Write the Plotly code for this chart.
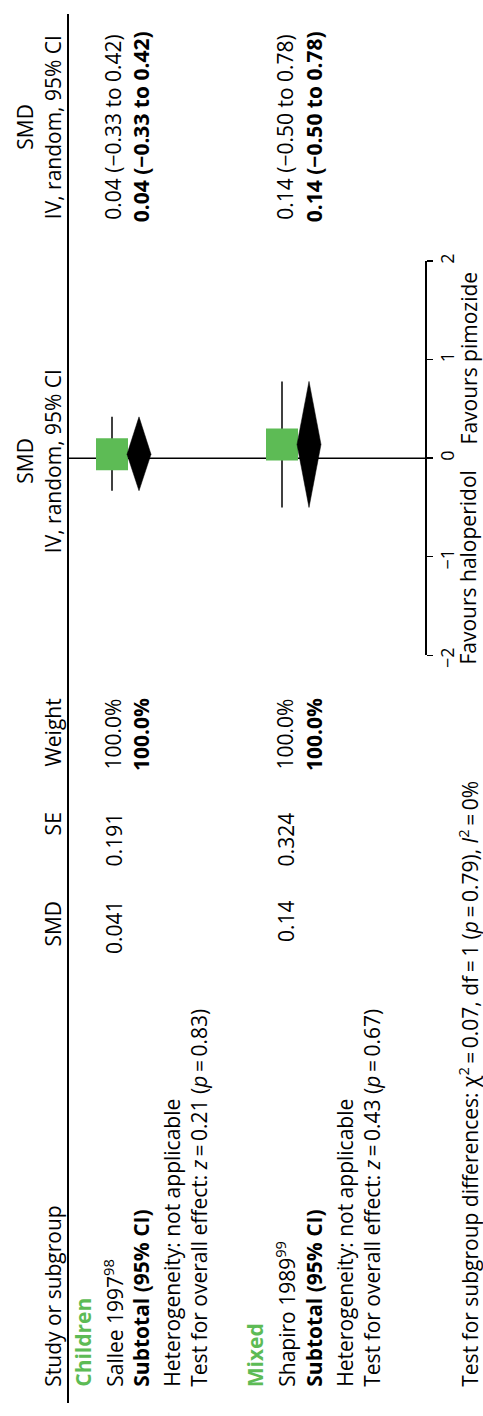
import plotly.graph_objects as go

# ---------------- data ----------------
subgroups = ["Children", "Mixed"]
studies = ["Sallee 1997<sup>98</sup>", "Shapiro 1989<sup>99</sup>"]
study_smd = [0.041, 0.14]
study_smd_text = ["0.041", "0.14"]
study_se_text = ["0.191", "0.324"]
study_weight = ["100.0%", "100.0%"]
study_ci_lo = [-0.33, -0.50]
study_ci_hi = [0.42, 0.78]
study_ci_text = ["0.04 (−0.33 to 0.42)", "0.14 (−0.50 to 0.78)"]
sub_est = [0.04, 0.14]
sub_lo = [-0.33, -0.50]
sub_hi = [0.42, 0.78]
sub_weight = ["100.0%", "100.0%"]
sub_ci_text = ["0.04 (−0.33 to 0.42)", "0.14 (−0.50 to 0.78)"]
heterogeneity = ["Heterogeneity: not applicable", "Heterogeneity: not applicable"]
overall_z = ["0.21", "0.43"]
overall_p = ["0.83", "0.67"]
subgroup_chi2 = "0.07"
subgroup_df = "1"
subgroup_p = "0.79"
subgroup_i2 = "0%"
tick_vals = [-2, -1, 0, 1, 2]
tick_text = ["−2\u2007", "−1\u2007", "0", "1", "2"]
favours_left = "Favours haloperidol"
favours_right = "Favours pimozide"

# ---------------- layout / style ----------------
W, H = 483, 1416
FONT = "Open Sans"
FS = 21
GREEN = "#5DBB55"
TS = "\u2009"  # thin space

ROW_HEAD_TOP = 25.5
ROW_HEAD = 53
ROW_GROUP = [83, 255]
ROW_STUDY = [113.5, 285.5]
ROW_SUB = [141, 314]
ROW_HET = [172.5, 345.5]
ROW_TEST = [199.5, 372.5]
ROW_SUBGROUP_TEST = 468.5
ROW_FAVOURS = 468.5
MARK_STUDY = [112, 282]
MARK_DIAMOND = [139, 309]
DIAMOND_HALF = 12

COL_STUDY = 1400
COL_SMD = 906
COL_SE = 817
COL_WEIGHT = 701
COL_FOREST = 460
COL_CI = 121

SEP_X = 68
AXIS_X = 425
ZERO_PX = 457
PX_PER_UNIT = 100
AX_MIN, AX_MAX = -2, 2

dom_lo = (H - (ZERO_PX - PX_PER_UNIT * AX_MIN)) / H
dom_hi = (H - (ZERO_PX - PX_PER_UNIT * AX_MAX)) / H

fig = go.Figure()

# zero line
fig.add_trace(go.Scatter(x=[SEP_X, AXIS_X], y=[0, 0], xaxis="x", yaxis="y2",
                         mode="lines", line=dict(color="black", width=1.5),
                         hoverinfo="skip", showlegend=False, cliponaxis=False))

# CI lines
ci_x, ci_y = [], []
for i in range(len(studies)):
    ci_x += [MARK_STUDY[i], MARK_STUDY[i], None]
    ci_y += [study_ci_lo[i], study_ci_hi[i], None]
fig.add_trace(go.Scatter(x=ci_x, y=ci_y, xaxis="x", yaxis="y2", mode="lines",
                         line=dict(color="black", width=1.5),
                         hoverinfo="skip", showlegend=False))

# study squares
fig.add_trace(go.Scatter(x=MARK_STUDY, y=study_smd, xaxis="x", yaxis="y2",
                         mode="markers",
                         marker=dict(symbol="square", size=32, color=GREEN,
                                     line=dict(width=0)),
                         hoverinfo="skip", showlegend=False))

# subtotal diamonds
for i in range(len(subgroups)):
    xc = MARK_DIAMOND[i]
    fig.add_trace(go.Scatter(
        x=[xc, xc + DIAMOND_HALF, xc, xc - DIAMOND_HALF, xc],
        y=[sub_hi[i], sub_est[i], sub_lo[i], sub_est[i], sub_hi[i]],
        xaxis="x", yaxis="y2", mode="lines", fill="toself",
        fillcolor="black", line=dict(color="black", width=0.5),
        hoverinfo="skip", showlegend=False))

annotations = []


def ann(text, x, y, yanchor, size=FS, color="black"):
    annotations.append(dict(
        text=text, x=x, y=y, xref="x", yref="y", xanchor="center",
        yanchor=yanchor, textangle=-90, showarrow=False,
        borderpad=0, borderwidth=0,
        font=dict(family=FONT, size=size, color=color)))


# headers
ann("Study or subgroup", ROW_HEAD, COL_STUDY, "bottom")
ann("SMD", ROW_HEAD, COL_SMD, "top")
ann("SE", ROW_HEAD, COL_SE, "top")
ann("Weight", ROW_HEAD, COL_WEIGHT, "top")
ann("SMD", ROW_HEAD_TOP, COL_FOREST, "middle")
ann("IV, random, 95% CI", ROW_HEAD, COL_FOREST, "middle")
ann("SMD", ROW_HEAD_TOP, COL_CI, "middle")
ann("IV, random, 95% CI", ROW_HEAD, COL_CI, "middle")

for i in range(len(subgroups)):
    ann("<b>%s</b>" % subgroups[i], ROW_GROUP[i], COL_STUDY, "bottom", color=GREEN)
    ann(studies[i], ROW_STUDY[i], COL_STUDY, "bottom")
    ann(study_smd_text[i], ROW_STUDY[i], COL_SMD, "top")
    ann(study_se_text[i], ROW_STUDY[i], COL_SE, "top")
    ann(study_weight[i], ROW_STUDY[i], COL_WEIGHT, "top")
    ann(study_ci_text[i], ROW_STUDY[i], COL_CI, "middle")
    ann("<b>Subtotal (95% CI)</b>", ROW_SUB[i], COL_STUDY, "bottom")
    ann("<b>%s</b>" % sub_weight[i], ROW_SUB[i], COL_WEIGHT, "top")
    ann("<b>%s</b>" % sub_ci_text[i], ROW_SUB[i], COL_CI, "middle")
    ann(heterogeneity[i], ROW_HET[i], COL_STUDY, "bottom")
    ann("Test for overall effect: <i>z</i>%s=%s%s (<i>p</i>%s=%s%s)"
        % (TS, TS, overall_z[i], TS, TS, overall_p[i]),
        ROW_TEST[i], COL_STUDY, "bottom")

ann("Test for subgroup differences: χ<sup>2</sup>%s=%s%s, df%s=%s%s (<i>p</i>%s=%s%s), <i>I</i><sup>2</sup>%s=%s%s"
    % (TS, TS, subgroup_chi2, TS, TS, subgroup_df, TS, TS, subgroup_p, TS, TS, subgroup_i2),
    ROW_SUBGROUP_TEST, COL_STUDY, "bottom")

ann(favours_left, ROW_FAVOURS, ZERO_PX + 13, "top")
ann(favours_right, ROW_FAVOURS, ZERO_PX - 14, "bottom")

fig.update_layout(
    width=W, height=H, autosize=False,
    margin=dict(l=0, r=0, t=0, b=0, pad=0),
    paper_bgcolor="white", plot_bgcolor="white",
    showlegend=False,
    font=dict(family=FONT, size=FS, color="black"),
    xaxis=dict(range=[0, W], domain=[0, 1], visible=False, fixedrange=True),
    yaxis=dict(range=[H, 0], domain=[0, 1], visible=False, fixedrange=True),
    yaxis2=dict(range=[AX_MIN, AX_MAX], domain=[dom_lo, dom_hi],
                anchor="free", position=AXIS_X / W, side="right",
                showline=True, linecolor="black", linewidth=1.5,
                ticks="outside", ticklen=6, tickwidth=1.5, tickcolor="black",
                tickvals=tick_vals, ticktext=tick_text, tickangle=-90,
                tickfont=dict(family=FONT, size=18, color="black"),
                showgrid=False, zeroline=False, fixedrange=True),
    annotations=annotations,
    shapes=[dict(type="line", xref="x", yref="y", x0=SEP_X, x1=SEP_X,
                 y0=6, y1=H, line=dict(color="black", width=2))],
)

fig.write_html("out.html", config={"displayModeBar": False, "staticPlot": True},
               post_script="document.body.style.margin='0';")
